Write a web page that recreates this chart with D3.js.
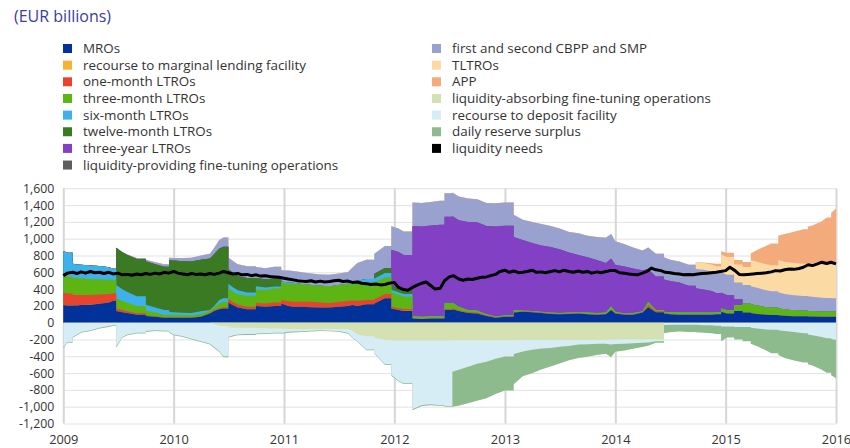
<!DOCTYPE html>
<html><head><meta charset="utf-8">
<script src="https://cdn.jsdelivr.net/npm/d3@7"></script>
<style>
body{margin:0;background:#fff;}
svg{display:block;font-family:"Open Sans",sans-serif;}
</style>
</head><body>
<svg id="c" width="850" height="448"></svg>
<script>
// ---------- DATA ----------
const dates = [
"2009-01-01","2009-01-15","2009-02-01","2009-02-15","2009-03-01","2009-04-01","2009-05-01","2009-06-01","2009-06-15",
"2009-06-25","2009-07-15","2009-08-01","2009-09-01","2009-10-01","2009-11-01","2009-12-01","2009-12-17",
"2010-01-01","2010-02-01","2010-03-01","2010-04-01","2010-05-01","2010-05-15","2010-06-01","2010-06-15",
"2010-07-01","2010-07-15","2010-08-01","2010-09-01","2010-09-30","2010-11-01","2010-12-01","2010-12-23",
"2011-01-15","2011-02-01","2011-03-01","2011-04-01","2011-05-01","2011-06-01","2011-07-01","2011-08-01",
"2011-08-15","2011-09-01","2011-10-01","2011-10-27","2011-12-01","2011-12-22","2012-01-15","2012-02-01",
"2012-03-01","2012-04-01","2012-05-01","2012-06-01","2012-06-15","2012-07-11","2012-08-01","2012-09-01",
"2012-10-01","2012-11-01","2012-12-01","2013-01-01","2013-01-30","2013-03-01","2013-04-01","2013-05-01",
"2013-06-01","2013-07-01","2013-08-01","2013-09-01","2013-10-01","2013-11-01","2013-12-01","2013-12-18",
"2014-01-01","2014-02-01","2014-03-01","2014-04-01","2014-04-20","2014-05-15","2014-06-11","2014-07-01",
"2014-08-01","2014-09-01","2014-09-24","2014-10-20","2014-11-15","2014-12-01","2014-12-17","2015-01-05",
"2015-01-29","2015-02-26","2015-03-25","2015-04-15","2015-05-15","2015-06-01","2015-06-24","2015-07-15",
"2015-08-15","2015-09-15","2015-09-30","2015-10-15","2015-11-15","2015-12-01","2015-12-16","2016-01-01"];

// dates on which the amounts change abruptly (allotments / maturities)
const jumpDates = ["2009-02-01","2009-06-25","2009-10-01","2009-12-17","2010-07-01","2010-09-30","2010-12-23",
"2011-10-27","2011-12-22","2012-03-01","2012-06-15","2012-07-11","2013-01-30","2014-06-11","2014-09-24",
"2014-12-17","2015-01-29","2015-02-26","2015-03-25","2015-06-24","2015-09-30","2015-12-16"];

const mros = [210,205,205,205,210,215,225,240,260,
 140,125,115,95,80,70,60,60,
 60,58,60,70,110,140,160,170,
 240,210,180,160,200,190,200,230,
 200,190,190,185,180,180,190,200,
 210,200,220,230,290,170,150,140,
 50,45,50,50,150,160,140,115,
 110,80,60,70,120,130,125,115,
 105,100,105,110,100,95,100,150,
 110,95,95,120,185,125,110,100,
 95,95,95,95,95,100,130,110,
 140,120,115,105,95,92,88,82,
 78,76,75,74,71,70,70,70];

const marginalLending = [3,2,1,1,1,1,1,1,1,
 0,0,0,0,0,0,0,0, 0,0,0,0,0,0,0,0, 0,0,0,0,0,0,0,0, 0,0,0,0,0,0,0,0,
 0,0,0,0,2,2,2,2, 1,1,1,1,1,1,1,0,
 0,0,0,0,0,0,0,0, 0,0,0,0,0,0,0,0, 0,0,0,0,0,0,0,0, 0,0,0,0,0,0,0,0,
 0,0,0,0,0,0,0,0, 0,0,0,0,0,0,0,0];

const oneMonthLTROs = [145,140,125,125,120,115,110,100,90,
 30,25,22,18,10,8,5,5,
 5,5,5,5,6,10,12,15,
 45,40,35,30,35,40,40,40,
 55,60,60,65,60,55,55,60,
 55,60,50,50,50,20,20,20,
 5,5,5,5,10,10,10,10,
 10,5,5,5,5,5,5,5,
 5,5,5,3,5,5,5,5,
 5,5,5,5,25,10,5,5,
 3,3,3,3,2,0,0,0,
 0,0,0,0,0,0,0,0,
 0,0,0,0,0,0,0,0];

const threeMonthLTROs = [206,200,205,200,198,190,180,170,160,
 120,110,100,85,55,45,30,30,
 30,28,25,30,25,30,60,65,
 125,125,125,130,160,160,170,210,
 210,215,210,200,200,200,205,200,
 190,200,210,200,200,170,160,150,
 20,20,20,20,70,70,40,25,
 25,15,10,15,25,10,10,10,
 10,10,10,10,15,15,15,40,
 15,10,15,10,40,15,15,20,
 25,22,22,22,23,25,40,40,
 70,110,105,100,90,87,85,75,
 70,65,65,62,60,60,60,60];

const sixMonthLTROs = [289,285,165,163,162,160,160,150,130,
 159,138,128,117,70,57,55,35,
 30,28,25,30,10,20,38,40,
 55,50,45,40,40,30,20,10,
 15,10,0,0,0,0,0,5,
 30,40,40,45,50,30,30,30,
 5,0,0,0,0,0,0,0,
 0,0,0,0,0,0,0,0, 0,0,0,0,0,0,0,0, 0,0,0,0,0,0,0,0,
 0,0,0,0,0,0,0,0, 0,0,0,0,0,0,0,0, 0,0,0,0,0,0,0,0];

const twelveMonthLTROs = [0,0,0,0,0,0,0,0,0,
 442,442,442,442,517,517,517,614,
 614,614,614,614,614,614,614,614,
 172,172,172,172,97,97,97,0,
 0,0,0,0,0,0,0,0,
 0,0,0,57,60,50,50,45,
 0,0,0,0,0,0,0,0, 0,0,0,0,0,0,0,0, 0,0,0,0,0,0,0,0, 0,0,0,0,0,0,0,0,
 0,0,0,0,0,0,0,0, 0,0,0,0,0,0,0,0, 0,0,0,0,0,0,0,0];

const threeYearLTROs = [0,0,0,0,0,0,0,0,0,
 0,0,0,0,0,0,0,0, 0,0,0,0,0,0,0,0, 0,0,0,0,0,0,0,0, 0,0,0,0,0,0,0,0,
 0,0,0,0,0,425,430,420,
 1070,1075,1080,1090,1030,1030,1030,1050,
 1050,1050,1070,1065,870,840,810,790,
 780,760,715,683,660,630,590,570,
 560,560,530,490,385,400,385,370,
 357,320,290,275,257,230,190,180,
 70,0,0,0,0,0,0,0,
 0,0,0,0,0,0,0,0];

const providingFineTuning = [0,0,0,0,0,0,0,0,0,
 0,0,0,0,0,0,0,0, 0,0,0,0,0,0,0,0, 0,0,0,0,0,0,0,0, 0,0,0,0,0,0,0,0,
 0,0,0,0,0,0,0,0, 0,0,0,0,0,0,0,0, 0,0,0,0,0,0,0,0, 0,0,0,0,0,0,0,0,
 0,0,0,0,0,0,0,0, 0,0,0,0,0,0,0,0, 0,0,0,0,0,0,0,0, 0,0,0,0,0,0,0,0];

const cbppSmp = [0,0,0,0,0,0,0,0,0,
 0,2,5,12,18,22,28,28,
 30,38,45,52,55,76,100,110,
 140,140,140,140,130,130,140,135,
 140,140,140,135,135,135,135,140,
 170,210,230,240,260,280,280,280,
 280,280,280,285,280,280,280,280,
 275,275,278,275,265,240,250,255,
 250,245,245,258,255,275,300,290,
 280,265,250,235,260,270,265,255,
 250,250,228,235,235,235,240,240,
 200,220,215,210,200,195,190,185,
 180,177,175,172,166,163,160,160];

const tltros = [0,0,0,0,0,0,0,0,0,
 0,0,0,0,0,0,0,0, 0,0,0,0,0,0,0,0, 0,0,0,0,0,0,0,0, 0,0,0,0,0,0,0,0,
 0,0,0,0,0,0,0,0, 0,0,0,0,0,0,0,0, 0,0,0,0,0,0,0,0, 0,0,0,0,0,0,0,0,
 0,0,0,0,0,0,0,0,
 0,0,82,82,82,82,212,212,
 212,212,310,310,310,310,384,384,
 384,384,400,400,400,400,418,418];

const app = [0,0,0,0,0,0,0,0,0,
 0,0,0,0,0,0,0,0, 0,0,0,0,0,0,0,0, 0,0,0,0,0,0,0,0, 0,0,0,0,0,0,0,0,
 0,0,0,0,0,0,0,0, 0,0,0,0,0,0,0,0, 0,0,0,0,0,0,0,0, 0,0,0,0,0,0,0,0,
 0,0,0,0,0,0,0,0,
 0,0,0,5,15,30,40,50,
 55,60,80,140,220,260,290,330,
 370,410,430,450,510,560,600,652];

const absorbingFineTuning = [0,0,0,0,0,0,0,0,0,
 0,0,0,0,0,0,0,0,
 0,0,0,0,0,-15,-35,-40,
 -55,-58,-60,-61,-63,-65,-70,-72,
 -74,-76,-77,-76,-75,-75,-74,-74,
 -95,-140,-160,-180,-205,-211,-211,-211,
 -211,-211,-212,-212,-212,-210,-210,-210,
 -210,-210,-210,-208,-208,-207,-207,-206,
 -206,-206,-206,-206,-206,-205,-205,-200,
 -200,-200,-200,-200,-200,-200,0,0,
 0,0,0,0,0,0,0,0, 0,0,0,0,0,0,0,0, 0,0,0,0,0,0,0,0];

const depositFacility = [-290,-230,-170,-140,-110,-90,-60,-40,-30,
 -285,-170,-140,-120,-100,-90,-95,-110,
 -140,-160,-190,-220,-250,-275,-305,-360,
 -115,-95,-80,-75,-65,-60,-50,-50,
 -35,-30,-25,-20,-15,-20,-25,-50,
 -80,-80,-160,-180,-290,-410,-480,-510,
 -820,-770,-760,-770,-780,-373,-350,-314,
 -280,-254,-220,-195,-165,-135,-115,-100,
 -95,-80,-70,-55,-50,-45,-45,-60,
 -55,-50,-45,-40,-35,-20,-27,-25,
 -25,-25,-25,-30,-30,-35,-45,-45,
 -50,-50,-60,-70,-80,-85,-90,-100,
 -110,-125,-140,-150,-170,-185,-195,-206];

const reserveSurplus = [-10,-10,-10,-10,-10,-10,-10,-10,-10,
 -15,-10,-10,-10,-10,-10,-10,-10,
 -10,-10,-10,-10,-10,-10,-10,-10,
 -10,-10,-10,-10,-10,-10,-10,-10,
 -10,-10,-8,-8,-8,-8,-8,-8,
 -8,-8,-8,-8,-8,-10,-10,-10,
 -10,-10,-10,-10,-10,-417,-430,-436,
 -440,-436,-420,-405,-360,-295,-280,-250,
 -220,-200,-170,-160,-150,-135,-120,-150,
 -90,-80,-65,-50,-40,-20,-100,-90,
 -80,-85,-90,-90,-95,-100,-180,-130,
 -150,-170,-190,-210,-250,-280,-295,-320,
 -340,-350,-355,-360,-390,-410,-430,-456];

// liquidity needs: semi-monthly (1st and 15th of each month), 2009-01-01 .. 2016-01-01
const liquidityNeeds = [
 560,590,600,585,605,590,610,595,600,585,600,580,590,570,575,565,580,570,585,575,590,580,600,590,
 610,590,580,570,585,575,580,570,585,575,590,610,595,580,585,570,575,560,570,555,560,550,545,540,
 530,520,510,500,495,490,500,485,495,485,490,500,505,490,495,480,485,470,465,455,460,450,455,470,
 480,420,395,385,420,445,470,485,440,400,410,500,545,560,520,505,520,515,530,540,545,560,575,610,
 625,600,615,595,600,610,625,600,605,595,610,620,605,625,610,600,615,600,610,590,605,595,610,620,
 620,595,590,580,575,570,590,610,650,630,620,600,595,585,580,570,575,570,580,585,590,595,600,610,
 620,660,620,575,570,575,580,585,590,595,605,620,615,630,640,635,645,660,690,680,700,720,705,720,
 700];

const yTickValues = [-1200,-1000,-800,-600,-400,-200,0,200,400,600,800,1000,1200,1400,1600];
const xTickYears = [2009,2010,2011,2012,2013,2014,2015,2016];

const positiveKeys = ["mros","mlf","ltro1m","ltro3m","ltro6m","ltro12m","ltro3y","ftp","cbpp","tltro","app"];
const negativeKeys = ["fta","df","res"];
const seriesValues = {mros:mros, mlf:marginalLending, ltro1m:oneMonthLTROs, ltro3m:threeMonthLTROs, ltro6m:sixMonthLTROs,
  ltro12m:twelveMonthLTROs, ltro3y:threeYearLTROs, ftp:providingFineTuning, cbpp:cbppSmp, tltro:tltros, app:app,
  fta:absorbingFineTuning, df:depositFacility, res:reserveSurplus};
const seriesLabels = {mros:"MROs", mlf:"recourse to marginal lending facility", ltro1m:"one-month LTROs", ltro3m:"three-month LTROs",
  ltro6m:"six-month LTROs", ltro12m:"twelve-month LTROs", ltro3y:"three-year LTROs", ftp:"liquidity-providing fine-tuning operations",
  cbpp:"first and second CBPP and SMP", tltro:"TLTROs", app:"APP", fta:"liquidity-absorbing fine-tuning operations",
  df:"recourse to deposit facility", res:"daily reserve surplus"};
const seriesColors = {mros:"#003299", mlf:"#f6b333", ltro1m:"#e8432d", ltro3m:"#5db514", ltro6m:"#3fb1ea", ltro12m:"#3a7a22",
  ltro3y:"#8240c4", ftp:"#5e5e5e", cbpp:"#99a1cf", tltro:"#fcdaa3", app:"#f3ab7c", fta:"#d3e1b3", df:"#d7edf6", res:"#8dbb8d"};
const legendLeft = ["mros","mlf","ltro1m","ltro3m","ltro6m","ltro12m","ltro3y","ftp"];
const legendRight = ["cbpp","tltro","app","fta","df","res","needs"];

// ---------- CHART ----------
(function(){
const svg = d3.select("#c");
const parse = d3.timeParse("%Y-%m-%d");
const pL = 63.3, pR = 836, pT = 188.3, pB = 423.5;
const x = d3.scaleTime().domain([new Date(2009,0,1), new Date(2016,0,1)]).range([pL, pR]);
const y = d3.scaleLinear().domain([-1200,1600]).range([pB, pT]);

// title
svg.append("text").attr("x",14).attr("y",21.5).attr("font-size",16).attr("fill","#3b3ba6").text("(EUR billions)");

// legend
const leg = svg.append("g");
function legendItem(key, lx, row){
  const ly = 48.5 + row*16.65;
  const color = key==="needs" ? "#000" : seriesColors[key];
  const label = key==="needs" ? "liquidity needs" : seriesLabels[key];
  leg.append("rect").attr("x",lx).attr("y",ly-4.5).attr("width",9).attr("height",9).attr("fill",color);
  leg.append("text").attr("x",lx+20).attr("y",ly).attr("dy","0.35em").attr("font-size",13.4).attr("fill","#333").text(label);
}
legendLeft.forEach((k,i)=>legendItem(k,63,i));
legendRight.forEach((k,i)=>legendItem(k,432,i));

// grid + axes
const fmt = v => d3.format(",")(v).replace("\u2212","-");
const gY = svg.append("g").attr("transform",`translate(${pL},0)`)
  .call(d3.axisLeft(y).tickValues(yTickValues).tickSize(-(pR-pL)).tickPadding(9).tickFormat(fmt));
gY.select(".domain").remove();
gY.selectAll(".tick line").attr("stroke","#e2e2e2").attr("stroke-width",1);
gY.selectAll(".tick text").attr("font-size",12.3).attr("fill","#333").attr("font-family","Open Sans");

const gX = svg.append("g").attr("transform",`translate(0,${pB})`)
  .call(d3.axisBottom(x).tickValues(xTickYears.map(yr=>new Date(yr,0,1))).tickSize(-(pB-pT)).tickPadding(11).tickFormat(d3.timeFormat("%Y")));
gX.select(".domain").remove();
gX.selectAll(".tick line").attr("stroke","#d6d6d6").attr("stroke-width",2);
gX.selectAll(".tick text").attr("font-size",12.8).attr("fill","#333").attr("font-family","Open Sans");

// stacked areas (cumulative fills, drawn from the outermost layer inwards)
const table = dates.map((d,i)=>{
  const r = {date: parse(d), jump: jumpDates.includes(d)};
  Object.keys(seriesValues).forEach(k=>{ r[k] = seriesValues[k][i]; });
  return r;
});
const posStack = d3.stack().keys(positiveKeys)(table);
const negStack = d3.stack().keys(negativeKeys)(table);

function outline(layer){
  const pts = [];
  layer.forEach((d,i)=>{
    if (i>0 && d.data.jump) pts.push({date:d.data.date, v:layer[i-1][1]});
    pts.push({date:d.data.date, v:d[1]});
  });
  return pts;
}
const area = d3.area().x(p=>x(p.date)).y0(y(0)).y1(p=>y(p.v));
const areaG = svg.append("g");
posStack.slice().reverse().forEach(layer=>{
  areaG.append("path").attr("d",area(outline(layer))).attr("fill",seriesColors[layer.key]);
});
negStack.slice().reverse().forEach(layer=>{
  areaG.append("path").attr("d",area(outline(layer))).attr("fill",seriesColors[layer.key]);
});

// liquidity needs line
const needsDates = [];
for (let yr=2009; yr<2016; yr++) for (let m=0; m<12; m++){ needsDates.push(new Date(yr,m,1)); needsDates.push(new Date(yr,m,15)); }
needsDates.push(new Date(2016,0,1));
const line = d3.line().x((d,i)=>x(needsDates[i])).y(d=>y(d));
svg.append("path").datum(liquidityNeeds).attr("d",line).attr("fill","none")
  .attr("stroke","#000").attr("stroke-width",3).attr("stroke-linejoin","round");
})();
</script>
</body></html>
